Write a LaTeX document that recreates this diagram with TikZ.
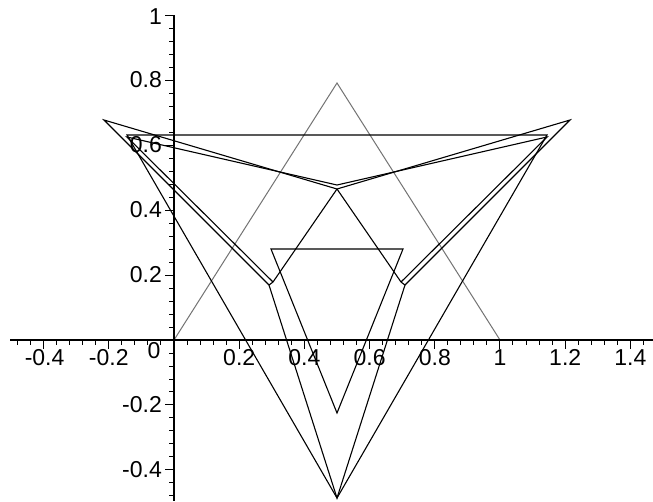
\documentclass[tikz,border=0pt]{standalone}
\usepackage{fontspec}
\setmainfont{Liberation Sans}
\begin{document}
\begin{tikzpicture}[x=1pt,y=-1pt]
\tikzset{
  curve/.style={line width=1.1pt, black, line join=miter},
  graycurve/.style={line width=1pt, black!55},
  axisline/.style={line width=1.6pt, black},
  tickline/.style={line width=1pt, black},
  lab/.style={inner sep=0pt, font=\fontsize{23}{23}\selectfont}
}
\useasboundingbox (0,0) rectangle (653,501);
\fill[white] (0,0) rectangle (653,501);
% vertices
\coordinate (O) at (174,340);
\coordinate (A1) at (500,340);
\coordinate (Aap) at (337,83);
\coordinate (CL) at (127,135);
\coordinate (CR) at (547,135);
\coordinate (CB) at (337,498);
\coordinate (BL) at (271,249);
\coordinate (BR) at (403,249);
\coordinate (BB) at (337,413);
\coordinate (TL) at (104,120);
\coordinate (TR) at (570,120);
\coordinate (TL2) at (127,137);
\coordinate (TR2) at (547,137);
\coordinate (V) at (337,189);
\coordinate (V2) at (337,185);
\coordinate (EL) at (269,285);
\coordinate (ER) at (405,285);
\coordinate (EL2) at (273,282);
\coordinate (ER2) at (401,282);
% curves
\draw[graycurve] (O) -- (Aap) -- (A1);
\draw[curve] (CL) -- (CR) -- (CB) -- cycle;
\draw[curve] (BL) -- (BR) -- (BB) -- cycle;
\draw[curve] (EL) -- (TL) -- (V) -- (TR) -- (ER);
\draw[curve] (EL2) -- (TL2) -- (V2) -- (TR2) -- (ER2);
\draw[curve] (EL) -- (EL2);
\draw[curve] (ER) -- (ER2);
\draw[curve] (V) -- (EL2);
\draw[curve] (V) -- (ER2);
\draw[curve] (EL) -- (CB) -- (ER);
% axes
\coordinate (xs) at (10,340);
\coordinate (xe) at (653,340);
\coordinate (ys) at (174,15);
\coordinate (ye) at (174,501);
\draw[axisline] (xs) -- (xe);
\draw[axisline] (ys) -- (ye);
\foreach \k in {-12,...,36}{
  \pgfmathsetmacro{\px}{174+\k*0.04*326}
  \pgfmathtruncatemacro{\m}{mod(\k+100,5)}
  \ifnum\m=0
    \draw[tickline] (\px,340) -- (\px,349);
  \else
    \draw[tickline] (\px,340) -- (\px,345);
  \fi
}
\foreach \k in {-12,...,25}{
  \pgfmathsetmacro{\py}{340-\k*0.04*325}
  \pgfmathtruncatemacro{\m}{mod(\k+100,5)}
  \ifnum\m=0
    \draw[tickline] (165,\py) -- (174,\py);
  \else
    \draw[tickline] (169,\py) -- (174,\py);
  \fi
}
% x labels
\node[lab, anchor=north] (xm4) at (44.6,349) {-0.4};
\node[lab, anchor=north] (xm2) at (108.8,349) {-0.2};
\node[lab] (x0) at (154,351) {0};
\node[lab, anchor=north] (x2) at (239.2,349) {0.2};
\node[lab, anchor=north] (x4) at (304.4,349) {0.4};
\node[lab, anchor=north] (x6) at (369.6,349) {0.6};
\node[lab, anchor=north] (x8) at (434.8,349) {0.8};
\node[lab, anchor=north] (x10) at (500,349) {1};
\node[lab, anchor=north] (x12) at (565.2,349) {1.2};
\node[lab, anchor=north] (x14) at (630.4,349) {1.4};
% y labels
\node[lab, anchor=east] (y10) at (162,17) {1};
\node[lab, anchor=east] (y8) at (162,80) {0.8};
\node[lab, anchor=east] (y6) at (162,145) {0.6};
\node[lab, anchor=east] (y4) at (162,210) {0.4};
\node[lab, anchor=east] (y2) at (162,275) {0.2};
\node[lab, anchor=east] (ym2) at (162,405) {-0.2};
\node[lab, anchor=east] (ym4) at (162,470) {-0.4};
\end{tikzpicture}
\end{document}
